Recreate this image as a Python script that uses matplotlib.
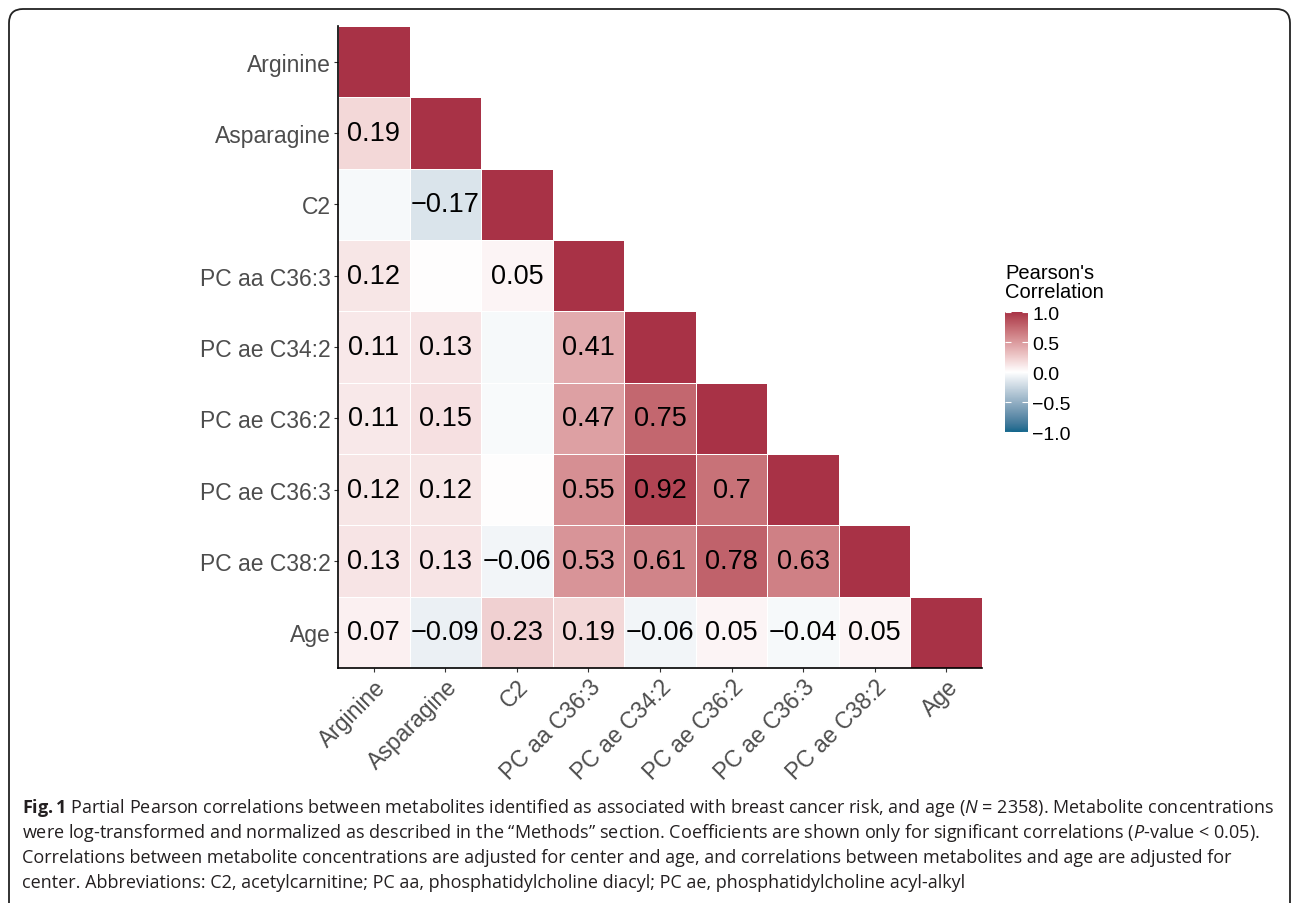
import numpy as np
import matplotlib
matplotlib.use("Agg")
import matplotlib.pyplot as plt
from matplotlib.colors import ListedColormap, to_rgb
from matplotlib.patches import FancyBboxPatch
from matplotlib.transforms import IdentityTransform

# ─── Data ─────────────────────────────────────────────────────────────────────
labels = ["Arginine", "Asparagine", "C2", "PC aa C36:3", "PC ae C34:2",
          "PC ae C36:2", "PC ae C36:3", "PC ae C38:2", "Age"]

# lower triangle, row by row (diagonal = 1)
corr_rows = [
    [1],
    [0.19, 1],
    [-0.04, -0.17, 1],
    [0.12, 0.01, 0.05, 1],
    [0.11, 0.13, -0.04, 0.41, 1],
    [0.11, 0.15, -0.03, 0.47, 0.75, 1],
    [0.12, 0.12, 0.01, 0.55, 0.92, 0.70, 1],
    [0.13, 0.13, -0.06, 0.53, 0.61, 0.78, 0.63, 1],
    [0.07, -0.09, 0.23, 0.19, -0.06, 0.05, -0.04, 0.05, 1],
]
# 1 = coefficient printed (significant), 0 = blank
sig_rows = [
    [0],
    [1, 0],
    [0, 1, 0],
    [1, 0, 1, 0],
    [1, 1, 0, 1, 0],
    [1, 1, 0, 1, 1, 0],
    [1, 1, 0, 1, 1, 1, 0],
    [1, 1, 1, 1, 1, 1, 1, 0],
    [1, 1, 1, 1, 1, 1, 1, 1, 0],
]

caption_lines = [
    r"$\mathbf{Fig.}$$\mathbf{1}$ Partial Pearson correlations between metabolites identified as associated with breast cancer risk, and age ($\mathit{N}$ = 2358). Metabolite concentrations",
    r"were log-transformed and normalized as described in the “Methods” section. Coefficients are shown only for significant correlations ($\mathit{P}$-value < 0.05).",
    "Correlations between metabolite concentrations are adjusted for center and age, and correlations between metabolites and age are adjusted for",
    "center. Abbreviations: C2, acetylcarnitine; PC aa, phosphatidylcholine diacyl; PC ae, phosphatidylcholine acyl-alkyl",
]

LOW, MID, HIGH = "#0F668B", "#FFFFFF", "#A83246"

# ─── Lab interpolation (like ggplot's gradient2) ──────────────────────────────
WHITE_REF = np.array([0.95047, 1.0, 1.08883])
M = np.array([[0.4124, 0.3576, 0.1805],
              [0.2126, 0.7152, 0.0722],
              [0.0193, 0.1192, 0.9505]])

def rgb_to_lab(c):
    c = np.array(to_rgb(c))
    lin = np.where(c <= 0.04045, c / 12.92, ((c + 0.055) / 1.055) ** 2.4)
    xyz = M @ lin / WHITE_REF
    f = np.where(xyz > 0.008856, np.cbrt(xyz), 7.787 * xyz + 16 / 116)
    return np.array([116 * f[1] - 16, 500 * (f[0] - f[1]), 200 * (f[1] - f[2])])

def lab_to_rgb(lab):
    L, a, b = lab
    fy = (L + 16) / 116
    fx = fy + a / 500
    fz = fy - b / 200
    f = np.array([fx, fy, fz])
    xyz = np.where(f ** 3 > 0.008856, f ** 3, (f - 16 / 116) / 7.787) * WHITE_REF
    lin = np.linalg.solve(M, xyz)
    lin = np.clip(lin, 0, 1)
    c = np.where(lin <= 0.0031308, 12.92 * lin, 1.055 * lin ** (1 / 2.4) - 0.055)
    return np.clip(c, 0, 1)

lab_lo, lab_mid, lab_hi = rgb_to_lab(LOW), rgb_to_lab(MID), rgb_to_lab(HIGH)
cols = []
for t in np.linspace(-1, 1, 511):
    if t < 0:
        cols.append(lab_to_rgb(lab_mid + (lab_lo - lab_mid) * (-t)))
    else:
        cols.append(lab_to_rgb(lab_mid + (lab_hi - lab_mid) * t))
cmap = ListedColormap(cols)

# ─── Matrix ───────────────────────────────────────────────────────────────────
n = len(labels)
mat = np.full((n, n), np.nan)
for i, row in enumerate(corr_rows):
    mat[i, :len(row)] = row
mat = np.ma.masked_invalid(mat)

# ─── Plot ─────────────────────────────────────────────────────────────────────
plt.rcParams["font.family"] = ["Liberation Sans", "DejaVu Sans"]
plt.rcParams["mathtext.fontset"] = "custom"
plt.rcParams["mathtext.rm"] = "Open Sans"
plt.rcParams["mathtext.it"] = "Open Sans:italic"
plt.rcParams["mathtext.bf"] = "Open Sans:bold"

W, H = 1292, 904
fig = plt.figure(figsize=(W / 100, H / 100), dpi=100)
ax = fig.add_axes([338 / W, 1 - 669 / H, (982 - 338) / W, (669 - 27) / H])

mesh = ax.pcolormesh(np.arange(n + 1), np.arange(n + 1), mat, cmap=cmap,
                     vmin=-1, vmax=1, edgecolors="white", linewidth=0.6)
ax.set_xlim(0, n)
ax.set_ylim(n, 0)

for i, row in enumerate(corr_rows):
    for j, v in enumerate(row):
        if sig_rows[i][j]:
            txt = f"{v:g}".replace("-", "\u2212")
            ax.text(j + 0.5, i + 0.5, txt, ha="center", va="center",
                    fontsize=19.5, color="black")

ax.set_xticks(np.arange(n) + 0.5)
ax.set_yticks(np.arange(n) + 0.5)
ax.set_xticklabels(labels, rotation=45, ha="right", va="top",
                   rotation_mode="anchor")
ax.set_yticklabels(labels)
ax.tick_params(labelsize=16.5, labelcolor="#4D4D4D", color="#333333",
               length=3, width=0.8, pad=2)
for s in ["top", "right"]:
    ax.spines[s].set_visible(False)
for s in ["left", "bottom"]:
    ax.spines[s].set_linewidth(1.2)
    ax.spines[s].set_color("black")

# colour bar
cax = fig.add_axes([1005 / W, 1 - 433 / H, 23 / W, 120 / H])
cb = fig.colorbar(mesh, cax=cax, ticks=[-1, -0.5, 0, 0.5, 1])
cb.outline.set_visible(False)
cb.ax.set_yticklabels(["\u22121.0", "\u22120.5", "0.0", "0.5", "1.0"])
cax.yaxis.set_ticks_position("both")
cax.tick_params(direction="in", color="white", length=4, width=0.8,
                labelsize=14, labelcolor="black", pad=3)
fig.text(1005 / W, 1 - 283 / H, "Pearson's\nCorrelation", ha="left",
         va="center", fontsize=14.5, linespacing=1.05)

# rounded frame
frame = FancyBboxPatch((9, -40), 1281, 934,
                       boxstyle="round,pad=0,rounding_size=14",
                       transform=IdentityTransform(), fill=False,
                       edgecolor="#222222", linewidth=1.3)
fig.patches.append(frame)

# caption, fitted to width of the first line
renderer = fig.canvas.get_renderer()
ys = [808, 833, 858, 883]
size = 12
probe = fig.text(22 / W, 0.5, caption_lines[0], fontsize=size, family="Open Sans")
wpx = probe.get_window_extent(renderer).width
probe.remove()
size = size * (1250 / wpx)
for line, y in zip(caption_lines, ys):
    fig.text(22 / W, 1 - y / H, line, fontsize=size, family="Open Sans",
             color="#231F20", ha="left", va="center")

fig.savefig("out.png", dpi=100)
